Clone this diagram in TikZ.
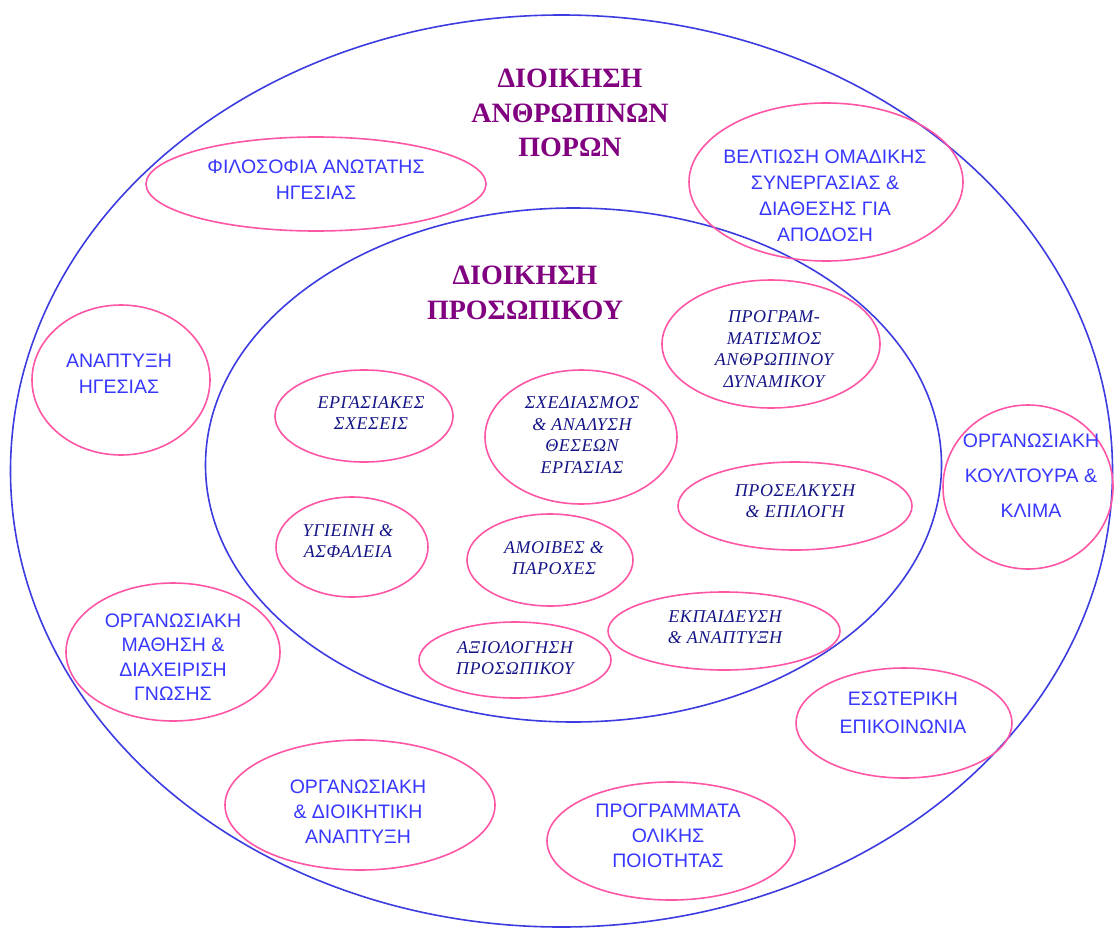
\documentclass[tikz,border=0pt]{standalone}
\usepackage{fontspec}
\setmainfont{Liberation Serif}
\newfontfamily\outfont{Liberation Sans}
\newfontfamily\infont[LetterSpace=3]{Liberation Serif}
\usetikzlibrary{shapes.geometric}

\definecolor{ringblue}{RGB}{60,60,225}
\definecolor{topicpink}{RGB}{255,85,165}
\definecolor{outblue}{RGB}{55,55,255}
\definecolor{innavy}{RGB}{20,20,135}
\definecolor{headpurple}{RGB}{128,0,128}

\tikzset{
  ring/.style={draw=ringblue, line width=1.6pt, ellipse, inner sep=0pt, outer sep=0pt},
  topic/.style={draw=topicpink, line width=1.6pt, ellipse, inner sep=0pt, outer sep=0pt},
  outtxt/.style={align=center, inner sep=0pt, text=outblue,
    font=\outfont\fontsize{19.5}{26}\selectfont},
  intxt/.style={align=center, inner sep=0pt, text=innavy,
    font=\infont\itshape\fontsize{18}{21.5}\selectfont},
  headtxt/.style={align=center, inner sep=0pt, text=headpurple,
    font=\bfseries\fontsize{28}{34.5}\selectfont}
}

\begin{document}
\begin{tikzpicture}[x=1pt,y=-1pt]
\useasboundingbox (0,0) rectangle (1115,931);

% the two nested rings
\node[ring, minimum width=1102pt, minimum height=912pt] (hrm) at (561.5,471) {};
\node[ring, minimum width=736pt, minimum height=514pt] (pm) at (573.5,465) {};

\node[headtxt] (hrmtitle) at (570,113) {ΔΙΟΙΚΗΣΗ\\ΑΝΘΡΩΠΙΝΩΝ\\ΠΟΡΩΝ};
\node[headtxt] (pmtitle) at (525,293) {ΔΙΟΙΚΗΣΗ\\ΠΡΟΣΩΠΙΚΟΥ};

% outer ring topics
\node[topic, minimum width=340pt, minimum height=94pt] (philo) at (316,184) {};
\node[outtxt] (philot) at (316,180) {ΦΙΛΟΣΟΦΙΑ ΑΝΩΤΑΤΗΣ\\ΗΓΕΣΙΑΣ};

\node[topic, minimum width=274pt, minimum height=158pt] (team) at (826,182) {};
\node[outtxt] (teamt) at (825,196) {ΒΕΛΤΙΩΣΗ ΟΜΑΔΙΚΗΣ\\ΣΥΝΕΡΓΑΣΙΑΣ \&\\ΔΙΑΘΕΣΗΣ ΓΙΑ\\ΑΠΟΔΟΣΗ};

\node[topic, minimum width=178pt, minimum height=150pt] (lead) at (121,380) {};
\node[outtxt] (leadt) at (119,374) {ΑΝΑΠΤΥΞΗ\\ΗΓΕΣΙΑΣ};

\node[topic, minimum width=170pt, minimum height=164pt] (cult) at (1028,487) {};
\node[outtxt, font=\outfont\fontsize{19.5}{35}\selectfont] (cultt) at (1031,476) {ΟΡΓΑΝΩΣΙΑΚΗ\\ΚΟΥΛΤΟΥΡΑ \&\\ΚΛΙΜΑ};

\node[topic, minimum width=214pt, minimum height=138pt] (learn) at (173,652) {};
\node[outtxt, font=\outfont\fontsize{19.5}{24.5}\selectfont] (learnt) at (173,657) {ΟΡΓΑΝΩΣΙΑΚΗ\\ΜΑΘΗΣΗ \&\\ΔΙΑΧΕΙΡΙΣΗ\\ΓΝΩΣΗΣ};

\node[topic, minimum width=216pt, minimum height=110pt] (comm) at (904,723) {};
\node[outtxt, font=\outfont\fontsize{19.5}{28}\selectfont] (commt) at (903,713) {ΕΣΩΤΕΡΙΚΗ\\ΕΠΙΚΟΙΝΩΝΙΑ};

\node[topic, minimum width=270pt, minimum height=130pt] (orgdev) at (360,805) {};
\node[outtxt, font=\outfont\fontsize{19.5}{25}\selectfont] (orgdevt) at (358,812) {ΟΡΓΑΝΩΣΙΑΚΗ\\\& ΔΙΟΙΚΗΤΙΚΗ\\ΑΝΑΠΤΥΞΗ};

\node[topic, minimum width=248pt, minimum height=118pt] (tqm) at (671,841) {};
\node[outtxt, font=\outfont\fontsize{19.5}{25}\selectfont] (tqmt) at (668,836) {ΠΡΟΓΡΑΜΜΑΤΑ\\ΟΛΙΚΗΣ\\ΠΟΙΟΤΗΤΑΣ};

% inner ring topics
\node[topic, minimum width=218pt, minimum height=128pt] (plan) at (771,344) {};
\node[intxt] (plant) at (774,349) {ΠΡΟΓΡΑΜ-\\ΜΑΤΙΣΜΟΣ\\ΑΝΘΡΩΠΙΝΟΥ\\ΔΥΝΑΜΙΚΟΥ};

\node[topic, minimum width=178pt, minimum height=92pt] (rel) at (364,416) {};
\node[intxt] (relt) at (371,413) {ΕΡΓΑΣΙΑΚΕΣ\\ΣΧΕΣΕΙΣ};

\node[topic, minimum width=192pt, minimum height=134pt] (job) at (581,437) {};
\node[intxt] (jobt) at (582,435) {ΣΧΕΔΙΑΣΜΟΣ\\\& ΑΝΑΛΥΣΗ\\ΘΕΣΕΩΝ\\ΕΡΓΑΣΙΑΣ};

\node[topic, minimum width=234pt, minimum height=88pt] (recr) at (795,506) {};
\node[intxt] (recrt) at (795,501) {ΠΡΟΣΕΛΚΥΣΗ\\\& ΕΠΙΛΟΓΗ};

\node[topic, minimum width=152pt, minimum height=100pt] (safe) at (352,547) {};
\node[intxt] (safet) at (348,541) {ΥΓΙΕΙΝΗ \&\\ΑΣΦΑΛΕΙΑ};

\node[topic, minimum width=166pt, minimum height=92pt] (pay) at (550,560) {};
\node[intxt] (payt) at (554,558) {ΑΜΟΙΒΕΣ \&\\ΠΑΡΟΧΕΣ};

\node[topic, minimum width=232pt, minimum height=78pt] (train) at (724,631) {};
\node[intxt] (traint) at (725,627) {ΕΚΠΑΙΔΕΥΣΗ\\\& ΑΝΑΠΤΥΞΗ};

\node[topic, minimum width=192pt, minimum height=76pt] (eval) at (515,660) {};
\node[intxt] (evalt) at (515,658) {ΑΞΙΟΛΟΓΗΣΗ\\ΠΡΟΣΩΠΙΚΟΥ};

\end{tikzpicture}
\end{document}
